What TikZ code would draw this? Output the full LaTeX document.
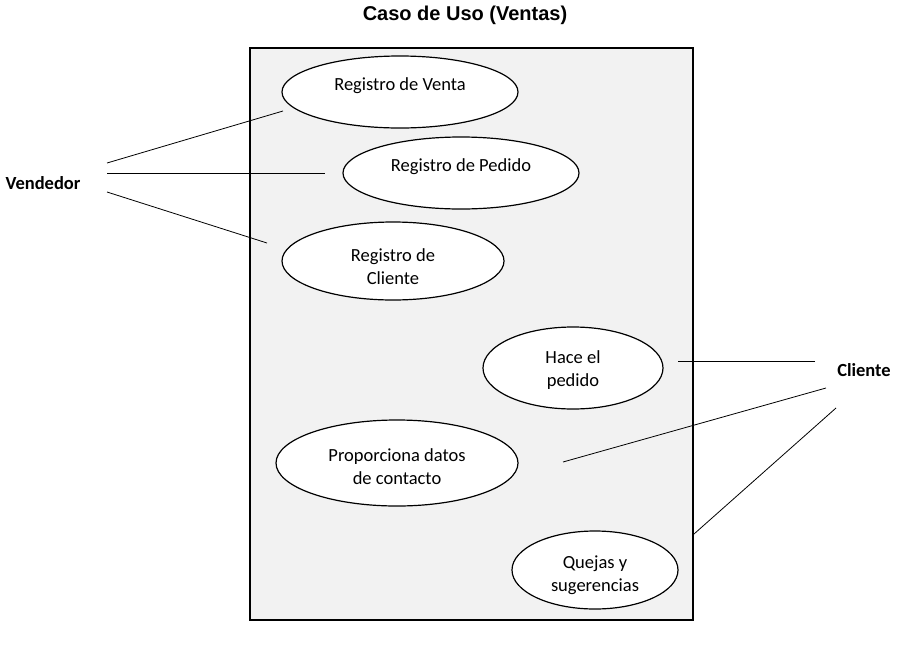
\documentclass[tikz,border=0pt]{standalone}
\usepackage{fontspec}
\setmainfont{Carlito}
\newfontfamily\titlefont{Liberation Sans}
\usetikzlibrary{shapes.geometric}
\definecolor{boxgray}{HTML}{F2F2F2}
\begin{document}
\begin{tikzpicture}[x=1pt,y=-1pt,
  usecase/.style={draw=black,line width=1.2pt,fill=white,ellipse,inner sep=0pt},
  uctext/.style={font=\fontsize{18.5}{23}\selectfont,align=center},
  actor/.style={font=\bfseries\fontsize{18.5}{22}\selectfont},
  assoc/.style={draw=black,line width=0.8pt}]
\useasboundingbox (0,0) rectangle (897,651);
\node[font=\titlefont\bfseries\fontsize{20}{24}\selectfont] (title) at (465,15) {Caso de Uso (Ventas)};
\draw[line width=1.3pt,fill=boxgray] (250,48) rectangle (693,620);
% use cases
\node[usecase,minimum width=236pt,minimum height=72pt] (uc1) at (400,92) {};
\node[uctext] (t1) at (400,86) {Registro de Venta};
\node[usecase,minimum width=236pt,minimum height=72pt] (uc2) at (461,173) {};
\node[uctext] (t2) at (461,167) {Registro de Pedido};
\node[usecase,minimum width=222pt,minimum height=78pt] (uc3) at (393,261) {};
\node[uctext] (t3) at (393,267) {Registro de\\Cliente};
\node[usecase,minimum width=180pt,minimum height=82pt] (uc4) at (573,368) {};
\node[uctext] (t4) at (573,370) {Hace el\\pedido};
\node[usecase,minimum width=242pt,minimum height=86pt] (uc5) at (397,463) {};
\node[uctext] (t5) at (397,467) {Proporciona datos\\de contacto};
\node[usecase,minimum width=166pt,minimum height=78pt] (uc6) at (595,570) {};
\node[uctext] (t6) at (595,575) {Quejas y\\sugerencias};
% actors
\node[actor] (vend) at (43,183) {Vendedor};
\node[actor] (cli) at (864,370) {Cliente};
% connector ends
\coordinate (v1) at (107,163); \coordinate (e1) at (283,111);
\coordinate (v2) at (107,173); \coordinate (e2) at (325,173);
\coordinate (v3) at (107,192); \coordinate (e3) at (267,243);
\coordinate (c1) at (815,361); \coordinate (e4) at (678,361);
\coordinate (c2) at (826,388); \coordinate (e5) at (563,462);
\coordinate (c3) at (836,408); \coordinate (e6) at (694,534);
\draw[assoc] (v1) -- (e1);
\draw[assoc] (v2) -- (e2);
\draw[assoc] (v3) -- (e3);
\draw[assoc] (c1) -- (e4);
\draw[assoc] (c2) -- (e5);
\draw[assoc] (c3) -- (e6);
\end{tikzpicture}
\end{document}
